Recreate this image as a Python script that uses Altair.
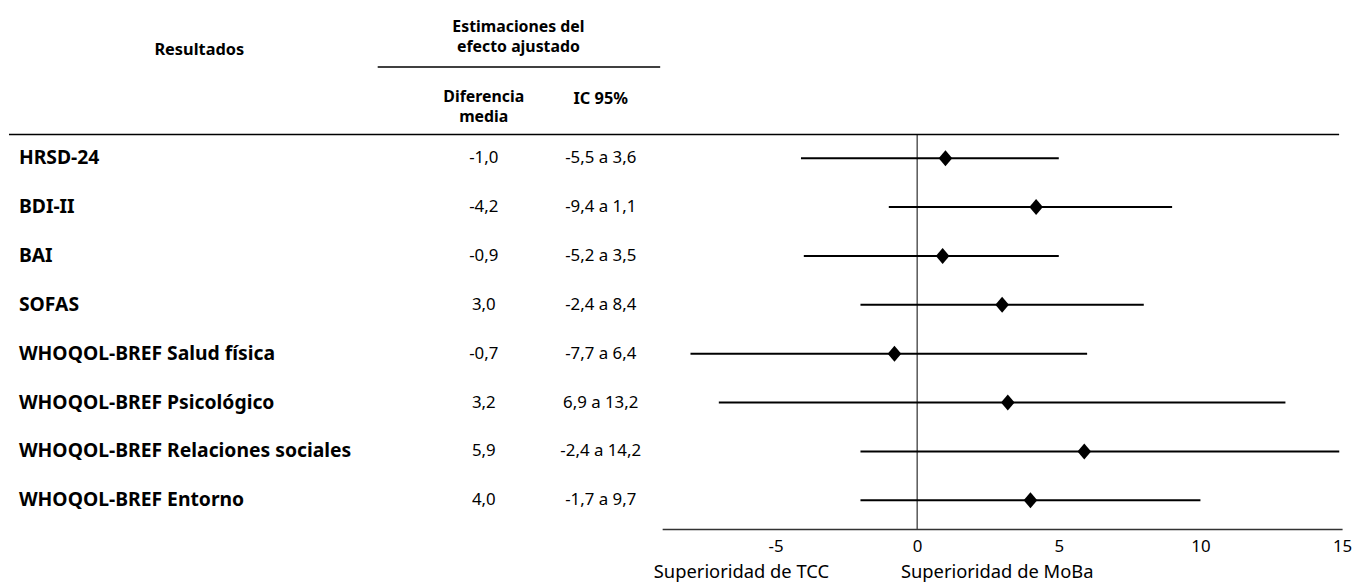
import altair as alt
import pandas as pd

# ---- data ----
labels = ["HRSD-24", "BDI-II", "BAI", "SOFAS",
          "WHOQOL-BREF Salud física", "WHOQOL-BREF Psicológico",
          "WHOQOL-BREF Relaciones sociales", "WHOQOL-BREF Entorno"]
mean_txt = ["-1,0", "-4,2", "-0,9", "3,0", "-0,7", "3,2", "5,9", "4,0"]
ci_txt = ["-5,5 a 3,6", "-9,4 a 1,1", "-5,2 a 3,5", "-2,4 a 8,4",
          "-7,7 a 6,4", "6,9 a 13,2", "-2,4 a 14,2", "-1,7 a 9,7"]
plot_mean = [1.0, 4.2, 0.9, 3.0, -0.8, 3.2, 5.9, 4.0]
plot_lo = [-4.1, -1.0, -4.0, -2.0, -8.0, -7.0, -2.0, -2.0]
plot_hi = [5.0, 9.0, 5.0, 8.0, 6.0, 13.0, 14.9, 10.0]
x_ticks = [-5, 0, 5, 10, 15]
x_domain = [-9, 15]

df = pd.DataFrame({
    "row": list(range(len(labels))),
    "label": labels,
    "mean_txt": mean_txt,
    "ci_txt": ci_txt,
    "m": plot_mean,
    "lo": plot_lo,
    "hi": plot_hi,
})

FONT = "Noto Sans"
H = 523
LEFT_W = 659
RIGHT_W = 686
ROW0 = 149.0
ROWSTEP = 49.3
y_dom = [-ROW0 / ROWSTEP, (H - ROW0) / ROWSTEP]
yscale = alt.Scale(domain=y_dom, reverse=True, nice=False, zero=False)
Y = alt.Y("row:Q", scale=yscale, axis=None)

one = alt.Data(values=[{"a": 1}])


def txt(text, x, y, bold=False, size=16.5, align="center", lh=20):
    return alt.Chart(one).mark_text(
        font=FONT, fontSize=size, fontWeight="bold" if bold else "normal",
        align=align, baseline="middle", color="black",
        lineBreak="\n", lineHeight=lh
    ).encode(x=alt.value(x), y=alt.value(y), text=alt.value(text))


def hline(x1, x2, y, w=1.5):
    return alt.Chart(one).mark_rule(color="black", strokeWidth=w).encode(
        x=alt.value(x1), x2=alt.value(x2), y=alt.value(y))


base = alt.Chart(df)

left = alt.layer(
    base.mark_text(font=FONT, fontSize=19.5, fontWeight="bold", align="left",
                   baseline="middle", color="black").encode(
        x=alt.value(10), y=Y, text="label:N"),
    base.mark_text(font=FONT, fontSize=17, align="center",
                   baseline="middle", color="black").encode(
        x=alt.value(479), y=Y, text="mean_txt:N"),
    base.mark_text(font=FONT, fontSize=17, align="center",
                   baseline="middle", color="black").encode(
        x=alt.value(597), y=Y, text="ci_txt:N"),
    txt("Resultados", 192, 40, bold=True),
    txt("Estimaciones del\nefecto ajustado", 514, 17, bold=True, size=16),
    hline(372, 657, 57),
    txt("Diferencia\nmedia", 479, 87, bold=True, size=16),
    txt("IC 95%", 597, 89, bold=True),
    hline(0, LEFT_W + RIGHT_W - 3, 125),
).properties(width=LEFT_W, height=H)

X = alt.X("lo:Q", scale=alt.Scale(domain=x_domain, nice=False, zero=False),
          axis=alt.Axis(values=x_ticks, ticks=False, grid=False, title=None,
                        domainColor="#333333", domainWidth=1.5,
                        labelFont=FONT, labelFontSize=17, labelColor="black",
                        labelPadding=10, labelFlush=False,
                        labelExpr="'' + datum.value"))

diamond = "M0,-1L0.85,0L0,1L-0.85,0Z"

right = alt.layer(
    base.mark_rule(color="black", strokeWidth=2).encode(
        x=X, x2="hi:Q", y=Y),
    alt.Chart(one).mark_rule(color="black", strokeWidth=1).encode(
        x=alt.datum(0), y=alt.value(125), y2=alt.value(H)),
    base.mark_point(shape=diamond, filled=True, color="black", opacity=1,
                    size=260).encode(x="m:Q", y=Y),
    txt("Superioridad de TCC", 80, 567, size=18.5),
    txt("Superioridad de MoBa", 338, 567, size=18.5),
).properties(width=RIGHT_W, height=H)

chart = alt.hconcat(left, right, spacing=0, bounds="flush").properties(
    padding=0).configure(font=FONT).configure_view(stroke=None)

chart.save("out.html", embed_options={"renderer": "svg", "actions": False})
